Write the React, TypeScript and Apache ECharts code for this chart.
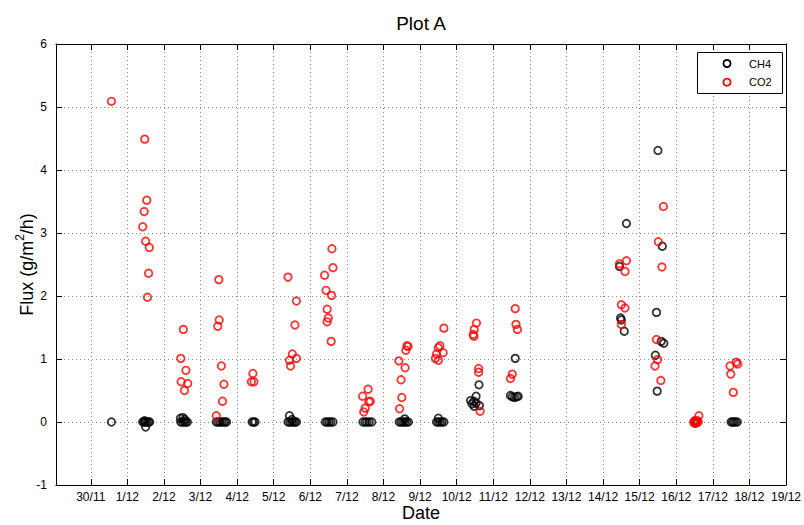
import React, { useEffect, useRef } from "react";
import * as echarts from "echarts";

// x values are days counted from 30/11 (0 = 30/11, 1 = 1/12, ...)
const dateLabels = [
  "30/11", "1/12", "2/12", "3/12", "4/12", "5/12", "6/12", "7/12", "8/12", "9/12",
  "10/12", "11/12", "12/12", "13/12", "14/12", "15/12", "16/12", "17/12", "18/12", "19/12",
];

const seriesNames = ["CH4", "CO2"];
const seriesColors = ["#000000", "#ff0000"];

const ch4Points: [number, number][] = [
  [0.565, 0],
  [1.42, 0], [1.46, 0], [1.5, 0], [1.54, 0], [1.58, 0], [1.61, 0], [1.47, 0.02], [1.5, -0.08],
  [2.45, 0.06], [2.52, 0.07], [2.46, 0], [2.51, 0], [2.56, 0], [2.6, 0], [2.64, 0], [2.57, 0.04],
  [3.43, 0], [3.48, 0], [3.53, 0], [3.58, 0], [3.63, 0], [3.67, 0], [3.71, 0],
  [4.41, 0], [4.45, 0], [4.49, 0],
  [5.39, 0], [5.44, 0], [5.49, 0], [5.54, 0], [5.58, 0], [5.62, 0], [5.43, 0.1], [5.5, 0.04],
  [6.41, 0], [6.46, 0], [6.51, 0], [6.56, 0], [6.62, 0],
  [7.44, 0], [7.5, 0], [7.55, 0], [7.61, 0], [7.68, 0],
  [8.43, 0], [8.48, 0], [8.53, 0], [8.58, 0], [8.63, 0], [8.68, 0], [8.58, 0.05],
  [9.45, 0], [9.5, 0], [9.55, 0], [9.6, 0], [9.65, 0], [9.5, 0.06],
  [10.61, 0.59], [10.53, 0.41], [10.38, 0.34], [10.47, 0.33], [10.53, 0.3], [10.62, 0.26], [10.48, 0.25], [10.42, 0.29],
  [11.6, 1.01], [11.47, 0.42], [11.52, 0.4], [11.58, 0.39], [11.64, 0.4], [11.68, 0.41],
  [14.64, 3.15], [14.45, 2.47], [14.48, 1.65], [14.5, 1.62], [14.58, 1.44],
  [15.5, 4.31], [15.62, 2.79], [15.46, 1.74], [15.59, 1.28], [15.66, 1.25], [15.43, 1.06], [15.48, 0.49],
  [16.5, 0], [16.56, 0],
  [17.5, 0], [17.54, 0], [17.58, 0], [17.62, 0], [17.67, 0],
];

const co2Points: [number, number][] = [
  [0.565, 5.09],
  [1.475, 4.49], [1.53, 3.52], [1.46, 3.34], [1.42, 3.1], [1.5, 2.87], [1.6, 2.77], [1.58, 2.36], [1.55, 1.98],
  [2.53, 1.47], [2.46, 1.01], [2.6, 0.82], [2.47, 0.64], [2.65, 0.61], [2.56, 0.5],
  [3.5, 2.26], [3.51, 1.62], [3.47, 1.52], [3.57, 0.89], [3.64, 0.6], [3.6, 0.33], [3.43, 0.1],
  [4.43, 0.77], [4.39, 0.64], [4.46, 0.64],
  [5.39, 2.3], [5.62, 1.92], [5.58, 1.54], [5.51, 1.08], [5.62, 1.01], [5.43, 0.98], [5.46, 0.89],
  [6.59, 2.75], [6.62, 2.45], [6.39, 2.33], [6.43, 2.09], [6.58, 2.01], [6.46, 1.79], [6.49, 1.65], [6.46, 1.59], [6.57, 1.28],
  [7.58, 0.52], [7.43, 0.41], [7.64, 0.33], [7.6, 0.32], [7.5, 0.22], [7.46, 0.16],
  [8.64, 1.21], [8.67, 1.2], [8.61, 1.14], [8.42, 0.97], [8.59, 0.86], [8.48, 0.67], [8.5, 0.39], [8.44, 0.21],
  [9.65, 1.49], [9.54, 1.21], [9.5, 1.18], [9.63, 1.1], [9.45, 1.08], [9.42, 1.01], [9.5, 0.98],
  [10.54, 1.57], [10.48, 1.47], [10.45, 1.39], [10.47, 1.36], [10.6, 0.85], [10.6, 0.79], [10.64, 0.17],
  [11.6, 1.8], [11.62, 1.55], [11.66, 1.47], [11.52, 0.76], [11.47, 0.69],
  [14.64, 2.56], [14.45, 2.51], [14.6, 2.39], [14.5, 1.86], [14.6, 1.81], [14.5, 1.55],
  [15.65, 3.42], [15.51, 2.86], [15.61, 2.46], [15.46, 1.31], [15.49, 0.99], [15.42, 0.89], [15.58, 0.66],
  [16.48, 0], [16.5, 0.02], [16.52, 0], [16.54, -0.02], [16.56, 0], [16.58, 0.02], [16.6, 0], [16.5, -0.02], [16.62, 0.1],
  [17.64, 0.95], [17.68, 0.92], [17.47, 0.89], [17.49, 0.76], [17.56, 0.47],
];

const yTicks = [-1, 0, 1, 2, 3, 4, 5, 6];

const FONT = "'Liberation Sans', Arial, Helvetica, sans-serif";

export default function App() {
  const ref = useRef<HTMLDivElement>(null);

  useEffect(() => {
    if (!ref.current) return;
    const chart = echarts.init(ref.current, undefined, { renderer: "svg" });
    const gridLine = { show: true, lineStyle: { color: "#8a8a8a", type: [1, 3] as any, width: 1 } };
    const axisLine = { show: true, onZero: false, lineStyle: { color: "#000", width: 1 } };
    const tick = { show: true, inside: true, length: 6, lineStyle: { color: "#000" } };
    const xCommon = {
      type: "value" as const,
      min: -0.95,
      max: 19,
      minInterval: 1,
      maxInterval: 1,
      splitNumber: 20,
    };
    const yCommon = {
      type: "value" as const,
      min: yTicks[0],
      max: yTicks[yTicks.length - 1],
      interval: 1,
    };

    const legendGraphic: any[] = [
      {
        type: "rect",
        shape: { x: 697.5, y: 52.5, width: 85, height: 41 },
        style: { fill: "#fff", stroke: "#000", lineWidth: 1 },
        z: 100,
      },
    ];
    seriesNames.forEach((n, i) => {
      const cy = 63.5 + i * 18.7;
      legendGraphic.push({
        type: "circle",
        shape: { cx: 727, cy, r: 3.6 },
        style: { fill: "none", stroke: seriesColors[i], lineWidth: 1.8 },
        z: 101,
      });
      legendGraphic.push({
        type: "text",
        x: 749,
        y: cy,
        style: {
          text: n,
          align: "left",
          verticalAlign: "middle",
          fontSize: 11,
          fontFamily: FONT,
          fill: "#000",
        },
        z: 101,
      });
    });

    chart.setOption({
      animation: false,
      backgroundColor: "#fff",
      textStyle: { fontFamily: FONT },
      grid: { left: 56, right: 18, top: 44, bottom: 40, containLabel: false, outerBoundsMode: "none" },
      graphic: [
        {
          type: "text",
          x: 421,
          y: 23,
          style: {
            text: "Plot A",
            align: "center",
            verticalAlign: "middle",
            fontSize: 19,
            fontFamily: FONT,
            fill: "#000",
          },
        },
        ...legendGraphic,
      ],
      xAxis: [
        {
          ...xCommon,
          position: "bottom",
          name: "Date",
          nameLocation: "middle",
          nameGap: 19,
          nameMoveOverlap: false,
          nameTextStyle: { fontSize: 18, lineHeight: 18, color: "#000", fontFamily: FONT },
          axisLine,
          axisTick: tick,
          axisLabel: {
            margin: 6,
            fontSize: 12,
            color: "#000",
            fontFamily: FONT,
            showMinLabel: true,
            showMaxLabel: true,
            formatter: (v: number) => {
              const r = Math.round(v);
              if (Math.abs(v - r) > 1e-6 || r < 0 || r >= dateLabels.length) return "";
              return dateLabels[r];
            },
          },
          splitLine: gridLine,
        },
        {
          ...xCommon,
          position: "top",
          axisLine,
          axisTick: tick,
          axisLabel: { show: false },
          splitLine: { show: false },
        },
      ],
      yAxis: [
        {
          ...yCommon,
          position: "left",
          name: "{a|Flux (g/m}{s|2}{a|/h)}",
          nameLocation: "middle",
          nameGap: 20,
          nameMoveOverlap: false,
          nameRotate: 90,
          nameTextStyle: {
            color: "#000",
            fontFamily: FONT,
            rich: {
              a: { fontSize: 18, color: "#000", fontFamily: FONT, lineHeight: 22, verticalAlign: "bottom" },
              s: { fontSize: 12, color: "#000", fontFamily: FONT, lineHeight: 22, verticalAlign: "top", padding: [0, 0, 8, 0] },
            },
          },
          axisLine,
          axisTick: tick,
          axisLabel: { margin: 9, fontSize: 12, color: "#000", fontFamily: FONT },
          splitLine: gridLine,
        },
        {
          ...yCommon,
          position: "right",
          axisLine,
          axisTick: tick,
          axisLabel: { show: false },
          splitLine: { show: false },
        },
      ],
      series: [
        {
          name: seriesNames[0],
          type: "scatter",
          xAxisIndex: 0,
          yAxisIndex: 0,
          symbol: "circle",
          symbolSize: 7.5,
          itemStyle: { color: "rgba(0,0,0,0)", borderColor: seriesColors[0], borderWidth: 1.8 },
          data: ch4Points,
        },
        {
          name: seriesNames[1],
          type: "scatter",
          xAxisIndex: 0,
          yAxisIndex: 0,
          symbol: "circle",
          symbolSize: 7.5,
          itemStyle: { color: "rgba(0,0,0,0)", borderColor: seriesColors[1], borderWidth: 1.8 },
          data: co2Points,
        },
      ],
    });
    return () => chart.dispose();
  }, []);

  return <div ref={ref} style={{ width: 804, height: 525, position: "absolute", left: 0, top: 0 }} />;
}
